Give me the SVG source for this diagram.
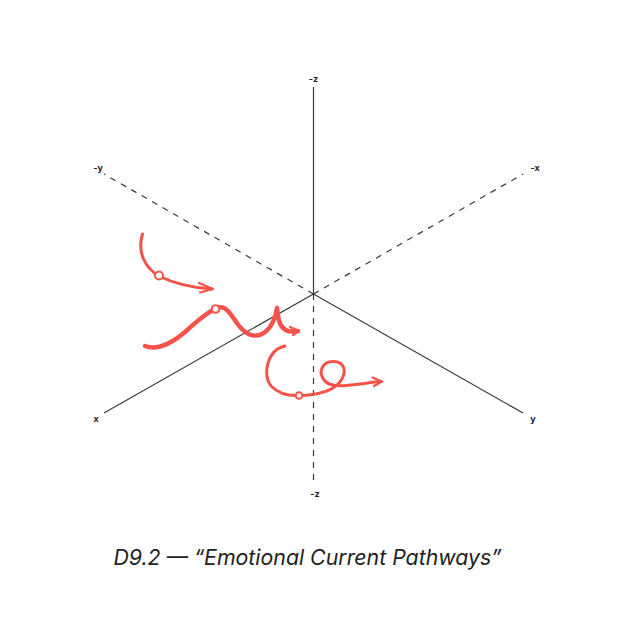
<svg xmlns="http://www.w3.org/2000/svg" width="627" height="627" viewBox="0 0 627 627">
<style>
.ax{stroke:#3a3a3a;stroke-width:1.2;fill:none}
.dash{stroke-dasharray:6 6}
.lbl{font-family:Inter,"Noto Sans",sans-serif;font-size:9px;font-weight:700;fill:#222;text-anchor:middle}
.cur{stroke:#f5524a;fill:none;stroke-linecap:round;stroke-linejoin:round}
.dot{fill:#fff;stroke:#f5524a;stroke-width:2}
.cap{font-family:Inter,"Noto Sans",sans-serif;font-size:21.3px;font-weight:400;font-style:italic;fill:#222;text-anchor:middle}
</style>
<rect width="627" height="627" fill="#fff"/>
<g id="axes">
<line class="ax" x1="313.5" y1="87" x2="313.5" y2="294"/>
<line class="ax dash" x1="313.5" y1="294" x2="313.5" y2="481"/>
<line class="ax dash" x1="313.5" y1="294" x2="104" y2="174"/>
<line class="ax dash" x1="313.5" y1="294" x2="523" y2="174"/>
<line class="ax" x1="313.5" y1="294" x2="104" y2="413"/>
<line class="ax" x1="313.5" y1="294" x2="523" y2="413"/>
<text class="lbl" x="313.5" y="82">-z</text>
<text class="lbl" x="315" y="497">-z</text>
<text class="lbl" x="98" y="171">-y</text>
<text class="lbl" x="535" y="171">-x</text>
<text class="lbl" x="96" y="422">x</text>
<text class="lbl" x="533" y="422">y</text>
</g>
<g id="pathway1">
<path class="cur" stroke-width="3" d="M142.5,234 C137,252 145,268 159,276 C175,284 195,288 212,289"/>
<path class="cur" stroke-width="2.2" d="M199,283 L213,289 L200,292.5"/>
<circle class="dot" cx="159" cy="275.5" r="4"/>
</g>
<g id="pathway2">
<path class="cur" stroke-width="4.5" d="M145,346 C158,351 172,343 185,332 C196,322 206,313 215,309 C227,302 232,318 240,327 C246,334 254,338 262,334 C272,329 276,316 277,308 C278,318 279,328 288,331 C292,332 296,331 298,331"/>
<path class="cur" stroke-width="2.2" d="M290,327 L299,331 L293,335"/>
<circle class="dot" cx="215.5" cy="309" r="3.8"/>
</g>
<g id="pathway3">
<path class="cur" stroke-width="3" d="M285,346 C267,350 262,375 271,386 C279,394 290,396 299,395.5 C318,395 332,391 339,383 C347,374 346,362 334,361.5 C322,361 318,372 324,380 C330,388 345,386 360,384 C368,383 375,382 381,381.5"/>
<path class="cur" stroke-width="2.2" d="M372.5,377.5 L382,381.5 L374,386"/>
<circle class="dot" cx="299" cy="395.5" r="3.3"/>
</g>
<text class="cap" x="307.5" y="565">D9.2 — “Emotional Current Pathways”</text>
</svg>
